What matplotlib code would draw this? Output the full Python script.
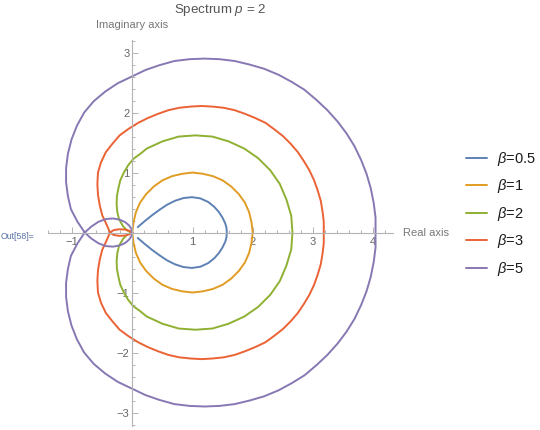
import matplotlib
matplotlib.use('Agg')
import matplotlib.pyplot as plt
from matplotlib.ticker import MultipleLocator, FixedLocator

plt.rcParams['font.family'] = ['Liberation Sans', 'DejaVu Sans']
plt.rcParams['mathtext.fontset'] = 'custom'
plt.rcParams['mathtext.rm'] = 'Liberation Sans'
plt.rcParams['mathtext.it'] = 'Liberation Sans:italic'

# curve points (real part, imaginary part)
betas = ['0.5', '1', '2', '3', '5']
colors = ['#5E81B5', '#E19C24', '#8FB032', '#EB6235', '#8778B3']

x_b05 = [0.09, 0.20, 0.33, 0.46, 0.58, 0.71, 0.85, 0.99, 1.13, 1.26, 1.36, 1.44, 1.50, 1.545,
         1.565, 1.57, 1.565, 1.545, 1.50, 1.44, 1.36, 1.26, 1.13, 0.99, 0.85, 0.71, 0.58,
         0.46, 0.33, 0.20, 0.09]
y_b05 = [0.09, 0.185, 0.29, 0.385, 0.465, 0.53, 0.575, 0.59, 0.57, 0.51, 0.43, 0.34, 0.245,
         0.15, 0.075, 0.00, -0.075, -0.15, -0.245, -0.34, -0.43, -0.51, -0.57, -0.59, -0.575,
         -0.53, -0.465, -0.385, -0.29, -0.185, -0.09]

x_b1 = [0.00, 0.02, 0.06, 0.13, 0.23, 0.36, 0.50, 0.66, 0.83, 1.00, 1.17, 1.34, 1.50, 1.64,
        1.77, 1.87, 1.94, 1.98, 2.00, 1.98, 1.94, 1.87, 1.77, 1.64, 1.50, 1.34, 1.17, 1.00,
        0.83, 0.66, 0.50, 0.36, 0.23, 0.13, 0.06, 0.02, 0.00]
y_b1 = [0.00, 0.17, 0.34, 0.50, 0.64, 0.77, 0.87, 0.94, 0.98, 1.00, 0.98, 0.94, 0.87, 0.77,
        0.64, 0.50, 0.34, 0.17, 0.00, -0.17, -0.34, -0.50, -0.64, -0.77, -0.87, -0.94, -0.98,
        -1.00, -0.98, -0.94, -0.87, -0.77, -0.64, -0.50, -0.34, -0.17, 0.00]

x_b2 = [0.00, -0.08, -0.15, -0.22, -0.25, -0.26, -0.255, -0.23, -0.20, -0.14, -0.07, 0.02,
        0.13, 0.24, 0.37, 0.50, 0.77, 1.05, 1.33, 1.60, 1.86, 2.09, 2.29, 2.45, 2.56, 2.64,
        2.66,
        2.64, 2.56, 2.45, 2.29, 2.09, 1.86, 1.60, 1.33, 1.05, 0.77, 0.50, 0.37, 0.24, 0.13,
        0.02, -0.07, -0.14, -0.20, -0.23, -0.255, -0.26, -0.25, -0.22, -0.15, -0.08, 0.00]
y_b2 = [0.00, 0.03, 0.10, 0.22, 0.35, 0.48, 0.61, 0.74, 0.87, 1.00, 1.12, 1.23,
        1.31, 1.40, 1.46, 1.52, 1.60, 1.62, 1.60, 1.52, 1.40, 1.24, 1.04, 0.81, 0.55, 0.28,
        0.00,
        -0.28, -0.55, -0.81, -1.04, -1.24, -1.40, -1.52, -1.60, -1.62, -1.60, -1.52, -1.46,
        -1.40, -1.31, -1.23, -1.12, -1.00, -0.87, -0.74, -0.61, -0.48, -0.35, -0.22, -0.10,
        -0.03, 0.00]

x_b3 = [0.00, -0.05, -0.12, -0.22, -0.31,
        -0.37, -0.43, -0.50, -0.54, -0.57, -0.58, -0.57, -0.52, -0.44, -0.33, -0.21, -0.06,
        0.10, 0.26, 0.43, 0.60, 0.78, 0.97, 1.15, 1.33, 1.52, 1.70, 1.87, 2.04, 2.21, 2.36,
        2.50, 2.63, 2.75, 2.85, 2.94, 3.02, 3.08, 3.13, 3.16, 3.18, 3.18,
        3.18, 3.16, 3.13, 3.08, 3.02, 2.94, 2.85, 2.75, 2.63, 2.50, 2.36, 2.21, 2.04, 1.87,
        1.70, 1.52, 1.33, 1.15, 0.97, 0.78, 0.60, 0.43, 0.26, 0.10, -0.06, -0.21, -0.33,
        -0.44, -0.52, -0.57, -0.58, -0.57, -0.54, -0.50, -0.43, -0.37,
        -0.31, -0.22, -0.12, -0.05, 0.00]
y_b3 = [0.00, 0.03, 0.05, 0.055, 0.04,
        0.00, -0.14, -0.29, -0.45, -0.63, -0.81, -1.00, -1.17, -1.34, -1.48, -1.62, -1.73,
        -1.83, -1.91, -1.98, -2.04, -2.08, -2.10, -2.11, -2.10, -2.08, -2.04, -1.98, -1.91,
        -1.83, -1.72, -1.61, -1.48, -1.34, -1.19, -1.04, -0.87, -0.70, -0.53, -0.35, -0.18,
        0.00,
        0.18, 0.35, 0.53, 0.70, 0.87, 1.04, 1.19, 1.34, 1.48, 1.61, 1.72, 1.83, 1.91, 1.98,
        2.04, 2.08, 2.10, 2.11, 2.10, 2.08, 2.04, 1.98, 1.91, 1.83, 1.73, 1.62, 1.48,
        1.34, 1.17, 1.00, 0.81, 0.63, 0.45, 0.29, 0.14, 0.00,
        -0.04, -0.055, -0.05, -0.03, 0.00]

x_b5 = [0.00, -0.015, -0.055, -0.12, -0.21, -0.32, -0.44, -0.56, -0.68, -0.79,
        -0.91, -1.02, -1.07, -1.10, -1.10, -1.07, -1.01, -0.92, -0.80, -0.64, -0.45, -0.24,
        -0.01, 0.22, 0.45, 0.70, 0.95, 1.20, 1.45, 1.70, 1.95, 2.19, 2.43, 2.65, 2.86, 3.06,
        3.24, 3.41, 3.56, 3.69, 3.80, 3.89, 3.96, 4.01, 4.04, 4.04,
        4.04, 4.01, 3.96, 3.89, 3.80, 3.69, 3.56, 3.41, 3.24, 3.06, 2.86, 2.65, 2.43, 2.19,
        1.95, 1.70, 1.45, 1.20, 0.95, 0.70, 0.45, 0.22, -0.01, -0.24, -0.45, -0.64, -0.80,
        -0.92, -1.01, -1.07, -1.10, -1.10, -1.07, -1.02, -0.91, -0.79,
        -0.68, -0.56, -0.44, -0.32, -0.21, -0.12, -0.055, -0.015, 0.00]
y_b5 = [0.00, 0.06, 0.12, 0.175, 0.215, 0.235, 0.225, 0.18, 0.10, 0.00,
        -0.18, -0.39, -0.61, -0.84, -1.07, -1.31, -1.55, -1.78, -2.00, -2.19, -2.35, -2.49,
        -2.60, -2.71, -2.79, -2.86, -2.89, -2.90, -2.89, -2.86, -2.80, -2.73, -2.63, -2.51,
        -2.38, -2.21, -2.04, -1.85, -1.65, -1.44, -1.21, -0.98, -0.74, -0.49, -0.25, 0.00,
        0.25, 0.49, 0.74, 0.98, 1.21, 1.44, 1.65, 1.85, 2.04, 2.21, 2.38, 2.51, 2.63, 2.73,
        2.80, 2.86, 2.89, 2.90, 2.89, 2.86, 2.79, 2.71, 2.60, 2.49, 2.35, 2.19, 2.00,
        1.78, 1.55, 1.31, 1.07, 0.84, 0.61, 0.39, 0.18, 0.00,
        -0.10, -0.18, -0.225, -0.235, -0.215, -0.175, -0.12, -0.06, 0.00]

xs = [x_b05, x_b1, x_b2, x_b3, x_b5]
ys = [y_b05, y_b1, y_b2, y_b3, y_b5]

fig = plt.figure(figsize=(5.4, 4.3), dpi=100)
ax = fig.add_axes([48 / 540, 1 - 425.7 / 430, 345 / 540, 385.7 / 430])

for x, y, c, b in zip(xs, ys, colors, betas):
    ax.plot(x, y, color=c, lw=1.4, label=r'$\beta$=' + b,
            solid_joinstyle='round', solid_capstyle='round')

ax.set_xlim(-1.40, 4.33)
ax.set_ylim(-3.22, 3.21)

axis_gray = '#b3b3b3'
for side in ['top', 'right']:
    ax.spines[side].set_visible(False)
for side in ['left', 'bottom']:
    ax.spines[side].set_position(('data', 0))
    ax.spines[side].set_color(axis_gray)
    ax.spines[side].set_linewidth(0.8)

ax.xaxis.set_major_locator(FixedLocator([-1, 1, 2, 3, 4]))
ax.yaxis.set_major_locator(FixedLocator([-3, -2, -1, 1, 2, 3]))
ax.xaxis.set_minor_locator(MultipleLocator(0.2))
ax.yaxis.set_minor_locator(MultipleLocator(0.2))
ax.tick_params(which='both', direction='in', colors=axis_gray, labelcolor='#666666',
               labelsize=8, width=0.7)
ax.tick_params(which='major', length=4)
ax.tick_params(which='minor', length=2)
ax.tick_params(axis='x', pad=3)
ax.tick_params(axis='y', pad=2)

ax.text(0, 3.46, 'Imaginary axis', ha='center', va='center', fontsize=8,
        color='#777777', clip_on=False)
ax.text(4.50, 0, 'Real axis', ha='left', va='center', fontsize=8, color='#777777',
        clip_on=False)
fig.text(220.5 / 540, 1 - 10 / 430, r'Spectrum $p$ = 2', ha='center', va='center',
         fontsize=9.6, color='#555555')
fig.text(0.002, 1 - 237 / 430, 'Out[58]=', ha='left', va='center', fontsize=6.3,
         color='#5570a0')

ax.legend(loc='center left', bbox_to_anchor=(466 / 540, 1 - 213.7 / 430),
          bbox_transform=fig.transFigure, frameon=False, fontsize=10.5,
          handlelength=1.45, handletextpad=0.65, labelspacing=0.65,
          borderpad=0, borderaxespad=0, labelcolor='#1a1a1a')

fig.savefig('out.png', dpi=100)
